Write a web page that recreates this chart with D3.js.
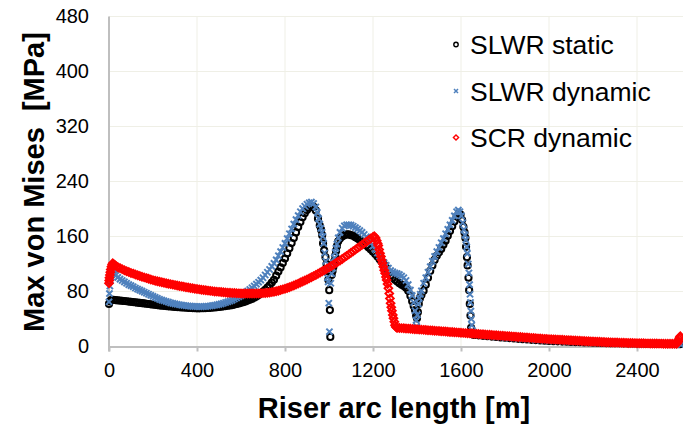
<!DOCTYPE html>
<html>
<head>
    <meta charset="utf-8">
    <title>Max von Mises along riser</title>
    <script src="https://cdn.jsdelivr.net/npm/d3@7"></script>
    <style>
        body {
            margin: 0;
            background: white;
        }
        text {
            font-family: "Liberation Sans", Arial, sans-serif;
            fill: #000;
        }
        .grid line {
            stroke: #efefe6;
            stroke-width: 1;
        }
        .axis path, .axis line {
            stroke: #bfbfbf;
            stroke-width: 2;
        }
        .tick-label {
            font-size: 20px;
        }
        .axis-title {
            font-size: 29px;
            font-weight: bold;
        }
        .legend-label {
            font-size: 26.5px;
        }
    </style>
</head>
<body>
    <div id="chart"></div>

    <script>
        // Series: [arc length m, stress MPa]
        const slwrStatic = [
            [0,62],[5,66],[10,67.5],[20,68],[30,67.5],[40,67],[50,66.8],[60,66.5],[70,66.2],[80,65.8],[90,65.4],[100,65],
            [110,64.6],[120,64.2],[130,63.8],[140,63.4],[150,63],[160,62.6],[170,62.2],[180,61.8],[190,61.4],[200,61],
            [210,60.6],[220,60.2],[230,59.8],[240,59.4],[250,59.1],[260,58.8],[270,58.5],[280,58.2],[290,57.9],[300,57.6],
            [310,57.3],[320,57.1],[330,56.9],[340,56.7],[350,56.5],[360,56.3],[370,56.1],[380,55.9],[390,55.7],[400,55.6],
            [410,55.6],[420,55.7],[430,55.8],[440,55.9],[450,56.1],[460,56.3],[470,56.6],[480,56.9],[490,57.2],[500,57.6],
            [510,58],[520,58.4],[530,58.8],[540,59.3],[550,59.8],[560,60.3],[570,61],[580,61.8],[590,62.6],[600,63.5],
            [610,64.5],[620,65.6],[630,66.8],[640,68],[650,69.5],[660,71],[670,72.8],[680,75],[690,77.4],[700,80],
            [710,82.5],[720,85.5],[730,89],[740,93],[750,97],[760,103],[770,109],[780,115],[790,121.5],[800,128],
            [810,135.5],[820,143],[830,150.5],[840,158],[850,166],[860,174],[870,181],[880,188],[890,194],[900,198.5],
            [910,202],[920,204],[930,203],[940,198],[950,186],[958,176],[964,170],[969,162],[973,150],[978,140],[984,130],
            [989,120],[993,110],[997,97],[1001,82],[1004,53],[1006,14],[1012,104],[1016,110],[1020,116],[1024,124],
            [1028,132],[1032,139],[1036,146],[1042,153],[1050,157],[1060,160],[1070,162],[1080,163],[1090,163],[1100,162],
            [1110,161],[1120,159],[1130,157],[1140,155],[1150,152.5],[1160,150],[1170,147],[1180,144],[1190,141],[1200,138],
            [1210,134.5],[1220,131],[1230,127],[1240,123],[1250,119],[1260,114.5],[1270,108],[1280,103],[1290,100],[1300,97],
            [1310,94.5],[1320,92],[1330,90],[1340,88],[1350,85.5],[1360,81],[1370,74],[1378,66],[1385,59],[1391,53],
            [1396,45],[1400,41],[1404,50],[1408,62],[1413,70],[1420,75],[1430,81],[1440,90],[1450,100],[1460,110],
            [1470,118],[1480,126],[1490,132],[1500,137],[1510,142],[1520,148],[1530,154],[1540,161],[1550,168],[1560,175],
            [1570,182],[1580,189],[1590,193.5],[1598,192],[1605,184],[1611,174],[1616,166],[1620,158],[1623,145],[1627,130],
            [1630,118],[1634,100],[1637,82],[1640,62],[1643,45],[1646,27],[1650,20],[1656,17],[1665,16.8],[1680,16.3],
            [1700,15.6],[1720,15],[1740,14.4],[1760,13.8],[1780,13.2],[1800,12.7],[1820,12.2],[1840,11.7],[1860,11.2],
            [1880,10.7],[1900,10.2],[1920,9.7],[1940,9.3],[1960,8.9],[1980,8.5],[2000,8.1],[2020,7.8],[2040,7.5],[2060,7.2],
            [2080,6.9],[2100,6.6],[2120,6.4],[2140,6.2],[2160,6],[2180,5.8],[2200,5.6],[2220,5.4],[2240,5.2],[2260,5],
            [2280,4.9],[2300,4.8],[2320,4.7],[2340,4.6],[2360,4.5],[2380,4.4],[2400,4.3],[2420,4.2],[2440,4.1],[2460,4],
            [2480,3.9],[2500,3.8],[2520,3.7],[2540,3.6],[2560,3.5],[2580,3.4],[2595,3.3]
        ];

        const slwrDynamic = [
            [0,65],[2,77],[4,88],[7,96],[10,101],[15,105],[20,107],[25,105.5],[30,103.5],[40,100.5],[50,98],[60,96],
            [70,94],[80,92],[90,90],[100,88.5],[110,87],[120,85],[130,83.5],[140,82],[150,80.5],[160,79],[170,77.5],
            [180,76],[190,74.5],[200,73],[210,71.5],[220,70],[230,68.5],[240,67.5],[250,66.5],[260,65.5],[270,64.5],
            [280,63.5],[290,62.8],[300,62],[310,61.4],[320,60.8],[330,60.2],[340,59.7],[350,59.3],[360,59],[370,58.7],
            [380,58.4],[390,58.2],[400,58.1],[410,58],[420,58],[430,58.1],[440,58.3],[450,58.6],[460,59],[470,59.5],
            [480,60],[490,60.6],[500,61.3],[510,62],[520,63],[530,64],[540,65],[550,66.2],[560,67.5],[570,69],
            [580,70.6],[590,72.3],[600,74],[610,76],[620,78.2],[630,80.5],[640,83],[650,85.5],[660,88],[670,90.8],
            [680,93.5],[690,96.5],[700,100],[710,104],[720,108],[730,112],[740,116.5],[750,121],[760,126],[770,132],
            [780,138],[790,144],[800,150],[810,157],[820,164],[830,171],[840,178],[850,184.5],[860,190.5],[870,196],
            [880,200.5],[890,204],[900,207],[910,209],[920,210],[930,208],[940,203],[947,195],[953,186],[958,178],
            [963,172],[968,166],[972,160],[976,150],[980,136],[985,124],[989,112],[993,100],[996,94],[999,63],[1002,21.5],
            [1008,92],[1012,106],[1016,114],[1020,121],[1024,129],[1028,137],[1032,143],[1036,149],[1042,158],[1050,166],
            [1060,172],[1070,175.5],[1080,177],[1090,177],[1100,176.5],[1110,175],[1120,173],[1130,171],[1140,168.5],
            [1150,166],[1160,163],[1170,159.5],[1180,156],[1190,151],[1200,146],[1210,141],[1220,136],[1230,131.5],
            [1240,127],[1250,122],[1260,118],[1270,114],[1280,110.5],[1290,108.5],[1300,107],[1310,106],[1320,104.5],
            [1330,102.5],[1340,100],[1350,96],[1360,90],[1370,82],[1378,74],[1385,64],[1391,52],[1396,38],[1399,29],
            [1402,46],[1406,62],[1410,70],[1415,76],[1420,81],[1430,92],[1440,100],[1450,108],[1460,116],[1470,124],
            [1480,131],[1490,138],[1500,144],[1510,151],[1520,157],[1530,164],[1540,170.5],[1550,177],[1560,183.5],
            [1570,190],[1580,196],[1588,198.5],[1595,196],[1602,190],[1608,180],[1613,170],[1618,162],[1622,155],
            [1626,145],[1629,135.5],[1633,120],[1636,107],[1639,90],[1641,76],[1643,64],[1645,51.6],[1647,40],[1649,31],
            [1653,22],[1658,18],[1665,17.2],[1680,16.7],[1700,16],[1720,15.4],[1740,14.8],[1760,14.2],[1780,13.6],
            [1800,13.1],[1820,12.6],[1840,12.1],[1860,11.6],[1880,11.1],[1900,10.6],[1920,10.1],[1940,9.7],[1960,9.3],
            [1980,8.9],[2000,8.5],[2020,8.2],[2040,7.9],[2060,7.6],[2080,7.3],[2100,7],[2120,6.8],[2140,6.6],[2160,6.4],
            [2180,6.2],[2200,6],[2220,5.8],[2240,5.6],[2260,5.4],[2280,5.3],[2300,5.2],[2320,5.1],[2340,5],[2360,4.9],
            [2380,4.8],[2400,4.7],[2420,4.6],[2440,4.5],[2460,4.4],[2480,4.3],[2500,4.2],[2520,4.1],[2540,4],[2560,3.9],
            [2580,3.8],[2600,2.5]
        ];

        const scrDynamic = [
            [0,92],[1,96],[2,100],[4,104],[6,108],[8,112],[11,116],[14,119],[17,121],[22,119.5],[28,118],[35,116.5],
            [42,115],[50,114],[60,112.5],[70,111],[80,109.5],[90,108.3],[100,107],[110,106],[120,104.8],[130,103.7],
            [140,102.6],[150,101.5],[160,100.5],[170,99.5],[180,98.5],[190,97.5],[200,96.5],[210,95.7],[220,95],
            [230,94.2],[240,93.5],[250,92.8],[260,92.1],[270,91.4],[280,90.7],[290,90],[300,89.3],[310,88.7],[320,88.1],
            [330,87.5],[340,86.9],[350,86.3],[360,85.7],[370,85.1],[380,84.6],[390,84.1],[400,83.6],[410,83.1],[420,82.6],
            [430,82.1],[440,81.7],[450,81.3],[460,80.9],[470,80.5],[480,80.1],[490,79.8],[500,79.5],[510,79.2],[520,78.9],
            [530,78.6],[540,78.3],[550,78.1],[560,77.9],[570,77.7],[580,77.5],[590,77.3],[600,77.2],[610,77.1],[620,77],
            [630,77],[640,77],[650,77],[660,77],[670,77.1],[680,77.2],[690,77.4],[700,77.6],[710,77.9],[720,78.2],
            [730,78.6],[740,79.1],[750,79.7],[760,80.4],[770,81.2],[780,82.1],[790,83.1],[800,84.1],[810,85.2],[820,86.3],
            [830,87.5],[840,88.8],[850,90.1],[860,91.5],[870,93],[880,94.5],[890,96],[900,97.5],[910,99.1],[920,100.7],
            [930,102.4],[940,104.1],[950,105.8],[960,107.6],[970,109.4],[980,111.2],[990,113.1],[1000,115],[1010,117],
            [1020,119],[1030,121],[1040,123.1],[1050,125.2],[1060,127.4],[1070,129.6],[1080,131.8],[1090,134],[1100,136.3],
            [1110,138.6],[1120,140.9],[1130,143.2],[1140,145.5],[1150,147.8],[1160,150.1],[1170,152.4],[1180,154.7],
            [1190,157],[1200,159.2],[1206,160.5],[1212,158],[1217,154],[1221,150],[1224,147],[1228,141],[1232,135.6],
            [1236,131],[1239,126],[1243,121],[1247,116],[1251,111],[1255,106.5],[1259,101],[1262,96.7],[1266,91],
            [1270,84.6],[1274,77],[1277,70],[1280,62.8],[1283,57],[1286,52],[1290,46],[1293,41],[1297,36],[1300,31],
            [1304,28.5],[1308,27.5],[1310,27.2],[1320,27],[1330,26.7],[1340,26.5],[1350,26.2],[1360,26],[1370,25.7],
            [1380,25.5],[1390,25.2],[1400,25],[1410,24.7],[1420,24.5],[1430,24.2],[1440,24],[1450,23.7],[1460,23.5],
            [1470,23.2],[1480,23],[1490,22.7],[1500,22.5],[1510,22.2],[1520,22],[1530,21.7],[1540,21.5],[1550,21.2],
            [1560,21],[1570,20.7],[1580,20.5],[1590,20.2],[1600,20],[1610,19.8],[1620,19.5],[1630,19.3],[1640,19.1],
            [1650,18.8],[1660,18.6],[1670,18.4],[1680,18.1],[1690,17.9],[1700,17.7],[1710,17.4],[1720,17.2],[1730,17],
            [1740,16.7],[1750,16.5],[1760,16.3],[1770,16],[1780,15.8],[1790,15.6],[1800,15.3],[1810,15.1],[1820,14.9],
            [1830,14.6],[1840,14.4],[1850,14.2],[1860,13.9],[1870,13.7],[1880,13.5],[1890,13.2],[1900,13],[1910,12.8],
            [1920,12.5],[1930,12.3],[1940,12.1],[1950,11.8],[1960,11.6],[1970,11.4],[1980,11.1],[1990,10.9],[2000,10.7],
            [2010,10.5],[2020,10.4],[2030,10.2],[2040,10],[2050,9.8],[2060,9.7],[2070,9.5],[2080,9.3],[2090,9.1],
            [2100,9],[2110,8.8],[2120,8.6],[2130,8.4],[2140,8.3],[2150,8.1],[2160,7.9],[2170,7.7],[2180,7.6],[2190,7.4],
            [2200,7.2],[2210,7.1],[2220,6.9],[2230,6.8],[2240,6.6],[2250,6.5],[2260,6.3],[2270,6.2],[2280,6],[2290,5.9],
            [2300,5.8],[2310,5.7],[2320,5.6],[2330,5.5],[2340,5.4],[2350,5.3],[2360,5.2],[2370,5.1],[2380,5],[2390,4.9],
            [2400,4.8],[2410,4.7],[2420,4.7],[2430,4.6],[2440,4.5],[2450,4.5],[2460,4.4],[2470,4.4],[2480,4.3],[2490,4.3],
            [2500,4.2],[2510,4.2],[2520,4.1],[2530,4.1],[2540,4],[2550,4],[2560,4],[2570,3.9],[2580,3.9],[2585,5.5],
            [2588,8],[2591,11],[2594,13.5],[2597,15]
        ];

        const seriesNames = ["SLWR static", "SLWR dynamic", "SCR dynamic"];
        const xTicks = [0, 400, 800, 1200, 1600, 2000, 2400];
        const xGrid = [400, 800, 1200, 1600, 2000, 2400, 2800];
        const yTicks = [0, 80, 160, 240, 320, 400, 480];

        const width = 683;
        const height = 424;

        const svg = d3.select("#chart")
            .append("svg")
            .attr("width", width)
            .attr("height", height)
            .style("display", "block");

        svg.append("rect")
            .attr("width", width)
            .attr("height", height)
            .attr("fill", "white");

        // scales (plot runs past the right edge of the picture, as in the reference)
        const x = d3.scaleLinear().domain([0, 2800]).range([109, 725]);
        const y = d3.scaleLinear().domain([0, 480]).range([346.5, 16.5]);

        // gridlines
        const grid = svg.append("g").attr("class", "grid");
        grid.selectAll(".hgrid")
            .data(yTicks.filter(d => d > 0))
            .join("line")
            .attr("x1", x(0)).attr("x2", x(2800))
            .attr("y1", d => y(d)).attr("y2", d => y(d));
        grid.selectAll(".vgrid")
            .data(xGrid)
            .join("line")
            .attr("x1", d => x(d)).attr("x2", d => x(d))
            .attr("y1", y(0)).attr("y2", y(480));

        // x axis
        const xAxis = svg.append("g")
            .attr("class", "axis")
            .attr("transform", `translate(0,${y(0)})`)
            .call(d3.axisBottom(x).tickValues(xTicks).tickFormat(d3.format("d"))
                .tickSize(5).tickSizeOuter(0).tickPadding(11));
        xAxis.selectAll("text").attr("class", "tick-label").attr("font-family", null).attr("font-size", null);

        // y axis
        const yAxis = svg.append("g")
            .attr("class", "axis")
            .attr("transform", `translate(${x(0)},0)`)
            .call(d3.axisLeft(y).tickValues(yTicks).tickFormat(d3.format("d"))
                .tickSize(0).tickSizeOuter(0).tickPadding(20));
        yAxis.selectAll("text").attr("class", "tick-label").attr("font-family", null).attr("font-size", null);
        yAxis.select(".domain").attr("d", `M0,${y(480)}V${y(0) + 5}`);

        // marker shapes
        const crossPath = "M-3.1,-3.1L3.1,3.1M-3.1,3.1L3.1,-3.1";
        const diamondPath = "M0,-3.8L3.8,0L0,3.8L-3.8,0Z";

        const plot = svg.append("g");

        plot.selectAll(".m-static")
            .data(slwrStatic)
            .join("circle")
            .attr("class", "m-static")
            .attr("cx", d => x(d[0]))
            .attr("cy", d => y(d[1]))
            .attr("r", 3.1)
            .attr("fill", "none")
            .attr("stroke", "#000")
            .attr("stroke-width", 2);

        plot.selectAll(".m-dyn")
            .data(slwrDynamic)
            .join("path")
            .attr("class", "m-dyn")
            .attr("transform", d => `translate(${x(d[0])},${y(d[1])})`)
            .attr("d", crossPath)
            .attr("fill", "none")
            .attr("stroke", "#4f81bd")
            .attr("stroke-width", 2);

        plot.selectAll(".m-scr")
            .data(scrDynamic)
            .join("path")
            .attr("class", "m-scr")
            .attr("transform", d => `translate(${x(d[0])},${y(d[1])})`)
            .attr("d", diamondPath)
            .attr("fill", "none")
            .attr("stroke", "#ff0000")
            .attr("stroke-width", 2);

        // axis titles
        svg.append("text")
            .attr("class", "axis-title")
            .attr("x", 394)
            .attr("y", 418)
            .attr("text-anchor", "middle")
            .text("Riser arc length [m]");

        svg.append("text")
            .attr("class", "axis-title")
            .attr("transform", "translate(44,182) rotate(-90)")
            .attr("text-anchor", "middle")
            .style("white-space", "pre")
            .text("Max von Mises  [MPa]");

        // legend
        const legend = svg.append("g");
        const legendY = [44.5, 91, 137.5];

        legend.append("circle")
            .attr("cx", 456).attr("cy", legendY[0]).attr("r", 2.2)
            .attr("fill", "none").attr("stroke", "#000").attr("stroke-width", 1.4);
        legend.append("path")
            .attr("transform", `translate(456,${legendY[1]})`)
            .attr("d", "M-2,-2L2,2M-2,2L2,-2")
            .attr("stroke", "#4f81bd").attr("stroke-width", 1.5);
        legend.append("path")
            .attr("transform", `translate(456,${legendY[2]})`)
            .attr("d", "M0,-2.6L2.6,0L0,2.6L-2.6,0Z")
            .attr("fill", "none").attr("stroke", "#ff0000").attr("stroke-width", 1.4);

        legend.selectAll(".legend-label")
            .data(seriesNames)
            .join("text")
            .attr("class", "legend-label")
            .attr("x", 470)
            .attr("y", (d, i) => legendY[i] + 9.5)
            .text(d => d);
    </script>
</body>
</html>
